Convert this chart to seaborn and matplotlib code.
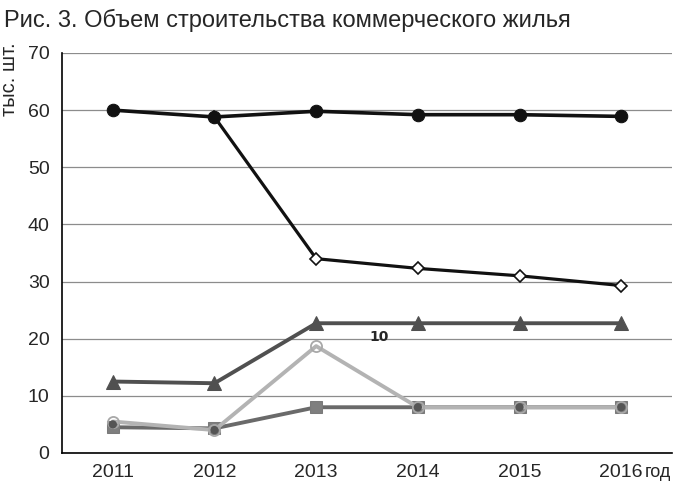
import numpy as np
import pandas as pd
import matplotlib
matplotlib.use("Agg")
import matplotlib.pyplot as plt
import seaborn as sns
from matplotlib.ticker import FixedLocator

sns.set_style("white")
plt.rcParams["font.family"] = ["Liberation Sans Narrow", "Liberation Sans", "DejaVu Sans"]

years = ["2011", "2012", "2013", "2014", "2015", "2016"]
total = [60.0, 58.8, 59.8, 59.2, 59.2, 58.9]
diamond = [np.nan, 58.8, 34.0, 32.3, 31.0, 29.3]
triangle = [12.5, 12.2, 22.7, 22.7, 22.7, 22.7]
light_circle = [5.5, 4.0, 18.7, 8.0, 8.0, 8.0]
square = [4.5, 4.3, 8.0, 8.0, 8.0, 8.0]
dots = [5.0, 4.0, np.nan, 8.0, 8.0, 8.0]
pos = np.arange(len(years))

fig = plt.figure(figsize=(6.79, 4.86), dpi=100)
ax = fig.add_axes([0.0913, 0.068, 0.8984, 0.823])

sns.lineplot(x=pos, y=square, ax=ax, color="#6a6a6a", lw=2.8, marker="s",
             markersize=9, markeredgecolor="#7a7a7a", markerfacecolor="#7f7f7f")
sns.lineplot(x=pos, y=light_circle, ax=ax, color="#b3b3b3", lw=2.8, marker="o",
             markersize=8, markerfacecolor="none", markeredgecolor="#a8a8a8", markeredgewidth=1.3)
sns.scatterplot(x=pos, y=dots, ax=ax, color="#555555", s=35, edgecolor="none", zorder=4)
sns.lineplot(x=pos, y=triangle, ax=ax, color="#505050", lw=2.8, marker="^",
             markersize=10, markeredgecolor="#505050")
sns.lineplot(x=pos, y=diamond, ax=ax, color="#111111", lw=2.3, marker="D",
             markersize=6.5, markerfacecolor="white", markeredgecolor="#111111", markeredgewidth=1.2)
sns.lineplot(x=pos, y=total, ax=ax, color="#111111", lw=2.6, marker="o",
             markersize=9, markeredgecolor="#111111")

ax.text(2.52, 19.6, "10", fontsize=10, fontweight="bold", family=["DejaVu Sans"])

ax.set_xlim(-0.5, len(years) - 0.5)
ax.set_ylim(0, 70)
ax.set_yticks(range(0, 71, 10))
ax.yaxis.grid(True, color="#8c8c8c", lw=0.9)
ax.set_axisbelow(True)
ax.set_xticks(pos)
ax.set_xticklabels(years)
ax.tick_params(axis="x", length=0, pad=8, labelsize=14)
ax.xaxis.set_minor_locator(FixedLocator(np.arange(-0.5, len(years), 1.0)))
ax.tick_params(axis="x", which="minor", length=7, width=1, color="black", direction="out")
ax.tick_params(axis="y", length=6, width=1, color="black", direction="out", labelsize=14, pad=3)
for s in ["top", "right"]:
    ax.spines[s].set_visible(False)
for s in ["left", "bottom"]:
    ax.spines[s].set_color("black")
    ax.spines[s].set_linewidth(1.2)

fig.text(0.0, 0.912, "тыс. шт.", rotation=90, va="top", ha="left", fontsize=14.5)
fig.text(0.95, 0.018, "год", fontsize=13)
fig.text(0.423, 0.945, "Рис. 3. Объем строительства коммерческого жилья", ha="center", fontsize=17)

fig.savefig("out.png", dpi=100)
